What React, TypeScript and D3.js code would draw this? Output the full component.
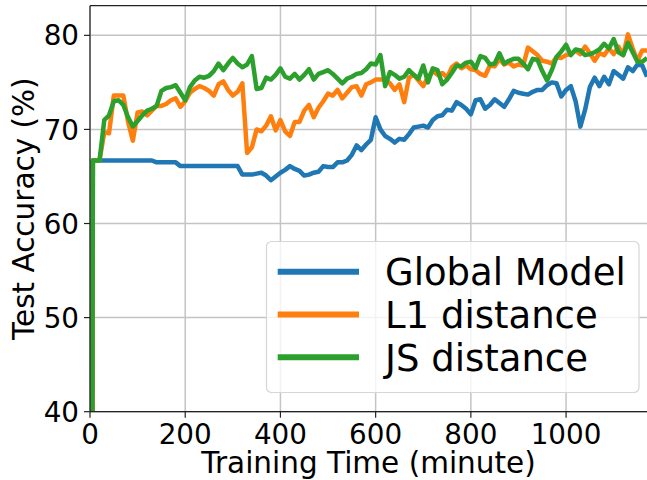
import { scaleLinear, line, range } from "d3"

// sampling grid (minutes); first two points draw the initial jump
const times = [5, 6, ...range(10, 1171, 10)]

const globalModel = [38, 66.7,
  66.7, 66.7, 66.7, 66.7, 66.7, 66.7, 66.7, 66.7, 66.7, 66.7,
  66.7, 66.7, 66.7, 66.5, 66.5, 66.5, 66.5, 66.5, 66.1, 66.1,
  66.1, 66.1, 66.1, 66.1, 66.1, 66.1, 66.1, 66.1, 66.1, 66.1,
  66.1, 65.2, 65.2, 65.2, 65.3, 65.4, 65.1, 64.6, 65.0, 65.4,
  65.7, 66.1, 65.8, 65.6, 65.1, 65.2, 65.4, 65.5, 66.1, 66.0,
  66.0, 66.5, 66.5, 66.7, 67.3, 68.3, 67.8, 68.4, 68.9, 71.3,
  70.0, 69.3, 69.0, 68.6, 69.0, 68.9, 69.5, 70.2, 70.3, 70.4,
  70.2, 71.0, 71.4, 71.5, 72.1, 72.0, 72.9, 72.6, 72.2, 71.6,
  73.1, 73.2, 72.2, 72.6, 73.2, 72.8, 72.4, 73.2, 74.1, 73.9,
  73.8, 73.7, 74.0, 74.2, 74.2, 74.7, 75.0, 74.9, 73.5, 74.2,
  74.6, 73.0, 70.3, 72.1, 74.5, 75.5, 74.6, 75.6, 74.8, 76.2,
  75.8, 75.4, 76.6, 76.2, 76.9, 76.8, 75.6]

const l1Distance = [38, 66.7,
  66.7, 66.7, 69.7, 69.6, 73.6, 73.6, 73.6, 70.8, 68.8, 71.8,
  71.9, 71.5, 72.0, 72.5, 72.5, 72.7, 73.1, 73.3, 72.4, 73.0,
  73.9, 74.3, 74.6, 74.4, 74.1, 73.6, 74.8, 75.1, 74.2, 73.6,
  74.0, 74.9, 67.5, 68.1, 70.0, 69.8, 70.4, 71.4, 69.9, 71.0,
  69.8, 69.3, 70.8, 70.8, 72.0, 72.6, 71.3, 72.3, 73.0, 73.8,
  73.6, 74.2, 73.3, 73.9, 74.5, 74.6, 73.6, 74.8, 75.0, 75.3,
  75.3, 75.3, 74.9, 74.2, 74.8, 72.9, 75.5, 75.8, 75.2, 74.6,
  75.6, 76.2, 75.8, 76.0, 75.5, 76.6, 77.0, 76.5, 76.8, 76.4,
  76.3, 75.9, 75.7, 76.8, 76.7, 77.5, 76.9, 77.1, 76.7, 76.9,
  76.8, 78.7, 78.3, 77.9, 77.3, 77.2, 77.0, 77.7, 77.6, 77.9,
  78.0, 78.4, 78.0, 78.8, 78.1, 77.3, 78.1, 77.9, 78.6, 78.0,
  78.8, 77.9, 80.1, 78.6, 77.3, 78.4, 78.4]

const jsDistance = [38, 66.7,
  66.7, 66.7, 71.0, 71.5, 73.0, 73.1, 72.6, 71.3, 70.3, 70.9,
  71.5, 72.0, 72.2, 72.5, 74.1, 74.4, 74.5, 74.7, 73.9, 73.1,
  74.5, 75.2, 75.6, 75.5, 75.7, 76.2, 77.0, 76.3, 77.0, 77.6,
  77.0, 76.6, 76.9, 77.8, 74.3, 74.4, 75.5, 75.3, 75.8, 76.5,
  75.6, 75.4, 75.9, 75.3, 75.8, 76.4, 75.3, 75.9, 76.1, 76.3,
  75.9, 75.4, 74.9, 75.4, 75.6, 75.9, 76.0, 76.4, 77.0, 76.9,
  77.9, 74.6, 76.1, 75.8, 75.4, 75.6, 76.3, 75.8, 75.4, 76.8,
  75.0, 76.5, 76.3, 74.8, 75.3, 76.0, 76.8, 76.7, 77.1, 77.2,
  76.5, 77.8, 77.6, 76.9, 77.0, 78.1, 77.0, 77.3, 77.5, 77.5,
  77.0, 76.4, 77.5, 77.4, 76.2, 75.2, 76.3, 77.7, 78.3, 79.0,
  77.9, 78.5, 78.4, 77.9, 78.0, 78.2, 78.5, 79.1, 78.6, 79.6,
  78.2, 77.9, 79.2, 78.2, 77.2, 77.2, 77.6]

const seriesNames = ["Global Model", "L1 distance", "JS distance"]
const seriesColors = ["#1f77b4", "#ff7f0e", "#2ca02c"]
const seriesValues = [globalModel, l1Distance, jsDistance]

const xTicks = [0, 200, 400, 600, 800, 1000]
const yTicks = [40, 50, 60, 70, 80]

const FONT = "DejaVu Sans, sans-serif"

export default function App() {
  const width = 647
  const height = 480
  const plot = { left: 90, right: 647, top: 5.7, bottom: 411.7 }

  const x = scaleLinear().domain([0, 1170]).range([plot.left, plot.right])
  const y = scaleLinear().domain([40, 83.15]).range([plot.bottom, plot.top])

  const path = (vals: number[]) =>
    line<number>()
      .x((_, i) => x(times[i]))
      .y((d) => y(d))(vals) || ""

  const legend = { x: 266.5, y: 241.5, w: 372.5, h: 151 }

  return (
    <div style={{ position: "absolute", left: 0, top: 0 }}>
      <svg width={width} height={height} style={{ display: "block" }} fontFamily={FONT}>
        <rect width={width} height={height} fill="#fff" />
        <defs>
          <clipPath id="plotClip">
            <rect x={plot.left} y={plot.top} width={plot.right - plot.left} height={plot.bottom - plot.top} />
          </clipPath>
        </defs>

        {/* grid */}
        {xTicks.map((t) => (
          <line key={"gx" + t} x1={x(t)} x2={x(t)} y1={plot.top} y2={plot.bottom} stroke="#c4c4c4" strokeWidth={1.5} />
        ))}
        {yTicks.map((t) => (
          <line key={"gy" + t} x1={plot.left} x2={plot.right} y1={y(t)} y2={y(t)} stroke="#c4c4c4" strokeWidth={1.5} />
        ))}

        {/* lines */}
        <g clipPath="url(#plotClip)">
          {seriesValues.map((vals, i) => (
            <path key={i} d={path(vals)} fill="none" stroke={seriesColors[i]} strokeWidth={4.5} strokeLinejoin="round" strokeLinecap="butt" />
          ))}
        </g>

        {/* spines */}
        <line x1={plot.left} x2={plot.left} y1={plot.top} y2={plot.bottom} stroke="#222" strokeWidth={1.2} />
        <line x1={plot.left} x2={plot.right} y1={plot.top} y2={plot.top} stroke="#222" strokeWidth={1.2} />
        <line x1={plot.left} x2={plot.right} y1={plot.bottom} y2={plot.bottom} stroke="#222" strokeWidth={1.2} />

        {/* x axis */}
        {xTicks.map((t) => (
          <g key={"xt" + t}>
            <line x1={x(t)} x2={x(t)} y1={plot.bottom} y2={plot.bottom + 6} stroke="#222" strokeWidth={1.2} />
            <text x={x(t)} y={444} textAnchor="middle" fontSize={27.8} fill="#000">{t}</text>
          </g>
        ))}
        <text x={(plot.left + plot.right) / 2} y={473} textAnchor="middle" fontSize={29.5} fill="#000">
          Training Time (minute)
        </text>

        {/* y axis */}
        {yTicks.map((t) => (
          <g key={"yt" + t}>
            <line x1={plot.left - 6} x2={plot.left} y1={y(t)} y2={y(t)} stroke="#222" strokeWidth={1.2} />
            <text x={79} y={y(t) + 10.1} textAnchor="end" fontSize={27.8} fill="#000">{t}</text>
          </g>
        ))}
        <text
          transform={`translate(33.5,${(plot.top + plot.bottom) / 2}) rotate(-90)`}
          textAnchor="middle"
          fontSize={29.5}
          fill="#000"
        >
          Test Accuracy (%)
        </text>

        {/* legend */}
        <rect x={legend.x} y={legend.y} width={legend.w} height={legend.h} rx={5} fill="#fff" fillOpacity={0.8} stroke="#d6d6d6" strokeWidth={1.2} />
        {seriesNames.map((name, i) => {
          const ly = 271.7 + i * 42.8
          return (
            <g key={name}>
              <line x1={277.7} x2={359} y1={ly} y2={ly} stroke={seriesColors[i]} strokeWidth={6} />
              <text x={385} y={ly + 13.3} fontSize={37} fill="#000">{name}</text>
            </g>
          )
        })}
      </svg>
    </div>
  )
}
